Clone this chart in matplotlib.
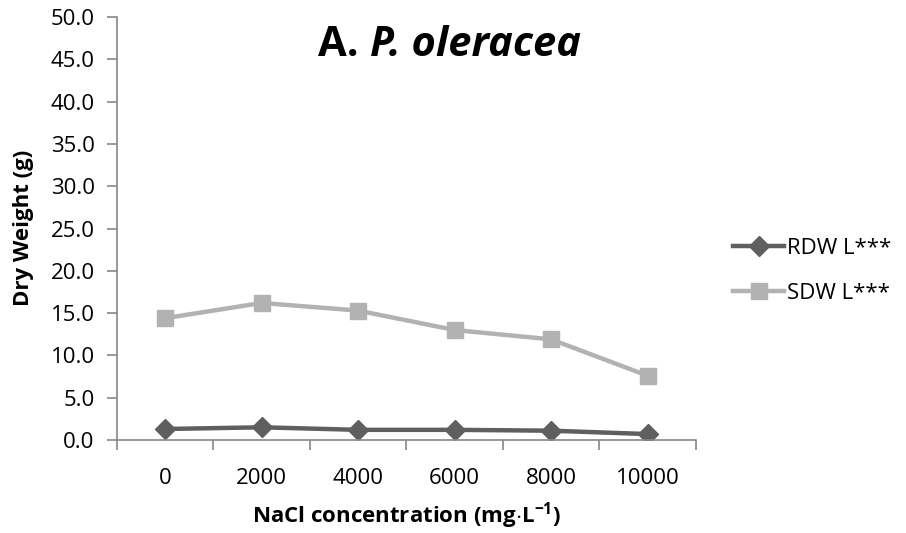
import numpy as np
import matplotlib.pyplot as plt

plt.rcParams['font.family'] = ['Open Sans', 'DejaVu Sans']
plt.rcParams['mathtext.fontset'] = 'custom'
plt.rcParams['mathtext.rm'] = 'Open Sans'
plt.rcParams['mathtext.bf'] = 'Open Sans:bold'

# data
conc = ['0', '2000', '4000', '6000', '8000', '10000']
rdw = [1.3, 1.5, 1.2, 1.2, 1.1, 0.7]
sdw = [14.4, 16.2, 15.3, 13.0, 11.9, 7.6]
yticks = np.arange(0, 50.1, 5)

fig = plt.figure(figsize=(9.06, 5.33), dpi=100)
ax = fig.add_axes([0.129, 0.1745, 0.639, 0.7935])

x = np.arange(len(conc))
ax.plot(x, rdw, color='#5f5f5f', lw=3.2, marker='D', ms=10, label='RDW L***')
ax.plot(x, sdw, color='#b2b2b2', lw=3.2, marker='s', ms=12, label='SDW L***')

ax.set_xlim(-0.5, len(conc) - 0.5)
ax.set_ylim(0, 50)
ax.set_yticks(yticks)
ax.set_yticklabels(['%.1f' % v for v in yticks])
ax.set_xticks(x)
ax.set_xticklabels(conc)
ax.set_xticks(np.arange(-0.5, len(conc)), minor=True)
ax.tick_params(axis='x', which='major', length=0, pad=20, labelsize=16)
ax.tick_params(axis='x', which='minor', length=7, width=1.2, color='#888888', direction='out')
ax.tick_params(axis='y', length=7, width=1.2, color='#888888', labelsize=16, pad=9)

for s in ['top', 'right']:
    ax.spines[s].set_visible(False)
for s in ['left', 'bottom']:
    ax.spines[s].set_color('#888888')
    ax.spines[s].set_linewidth(1.2)

ax.set_xlabel(r'NaCl concentration (mg$\cdot$L$^{\mathbf{-1}}$)', fontsize=16, fontweight='bold', labelpad=8)
fig.text(0.026, 0.572, 'Dry Weight (g)', rotation=90, fontsize=16, fontweight='bold',
         ha='center', va='center')

t1 = fig.text(0.351, 0.895, 'A. ', fontsize=30, fontweight='bold')
ax.annotate('P. oleracea', xy=(1, 0), xycoords=t1, fontsize=30, fontweight='bold',
            fontstyle='italic', va='bottom', ha='left')

ax.legend(loc='center left', bbox_to_anchor=(1.03, 0.40), frameon=False, fontsize=16,
          handlelength=2.3, handletextpad=0.1, labelspacing=1.1)

fig.savefig('out.png', dpi=100)
